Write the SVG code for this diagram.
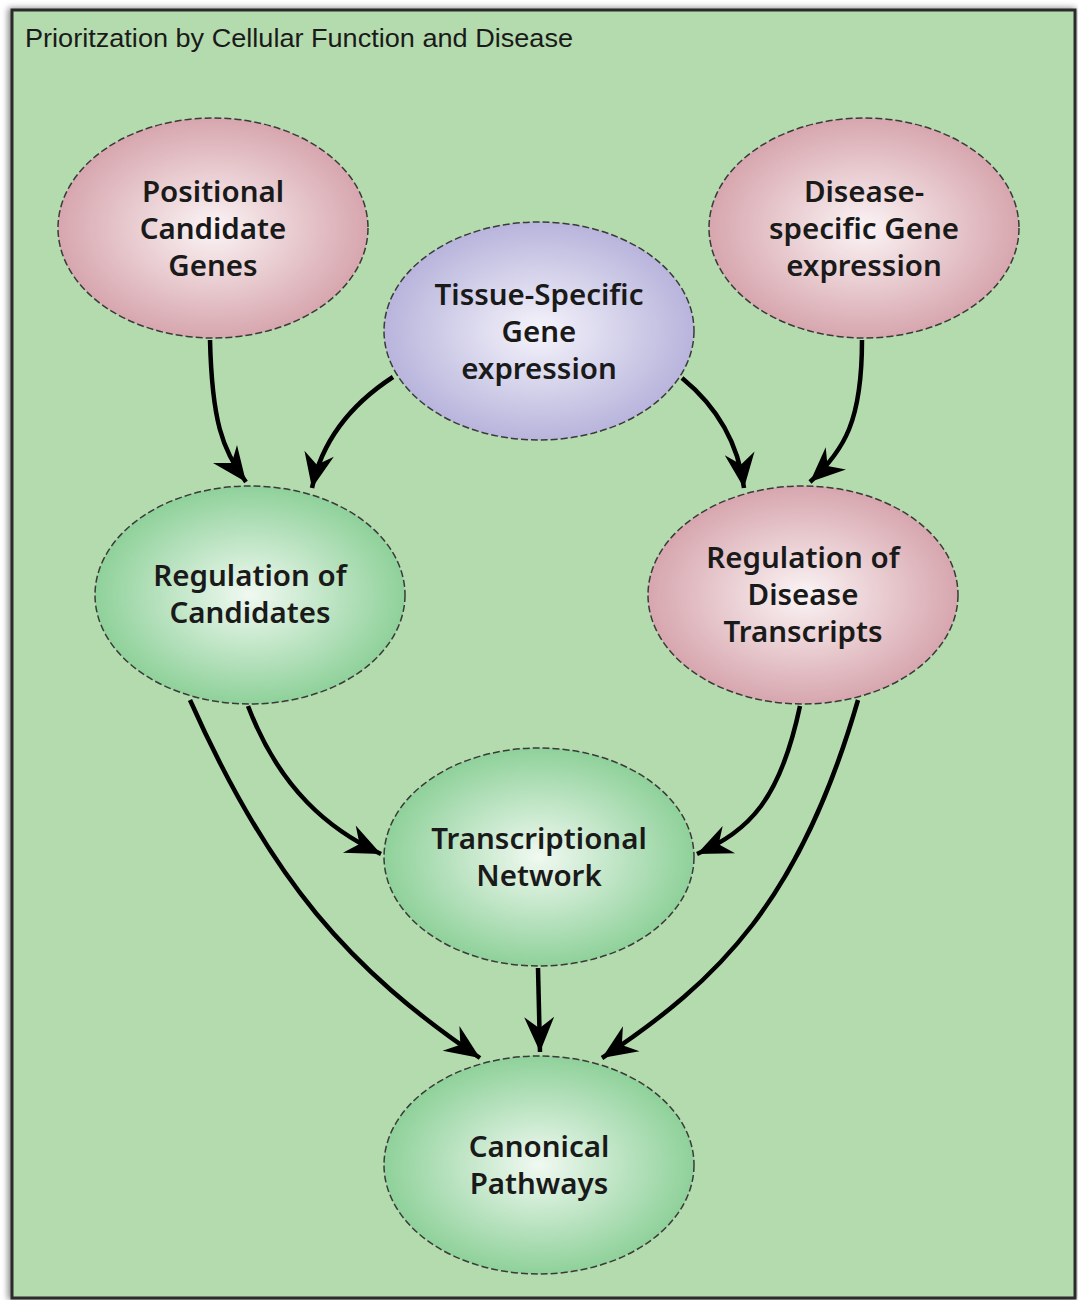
<svg xmlns="http://www.w3.org/2000/svg" width="1078" height="1300" viewBox="0 0 1078 1300">
<style>
.node ellipse{stroke:#3a3a3a;stroke-width:1.5;stroke-dasharray:7 3}
.node text{font-family:"Noto Sans","DejaVu Sans",sans-serif;font-weight:600;font-size:29.5px;fill:#1a1a1a;text-anchor:middle}
.conn path{fill:none;stroke:#000;stroke-width:4.5;marker-end:url(#ah)}
.title{font-family:"Liberation Sans",Arial,sans-serif;font-size:25px;fill:#1a1a1a}
</style>
<defs>
<radialGradient id="gPink" cx="50%" cy="50%" r="50%">
<stop offset="0" stop-color="#fbf4f5"/><stop offset="1" stop-color="#d7a6ae"/>
</radialGradient>
<radialGradient id="gPurple" cx="50%" cy="50%" r="50%">
<stop offset="0" stop-color="#f5f4fb"/><stop offset="1" stop-color="#b8b4dc"/>
</radialGradient>
<radialGradient id="gGreen" cx="50%" cy="50%" r="50%">
<stop offset="0" stop-color="#f0f9f1"/><stop offset="1" stop-color="#8fd19a"/>
</radialGradient>
<marker id="ah" markerUnits="userSpaceOnUse" markerWidth="40" markerHeight="40" viewBox="-30 -15 32 30" refX="0" refY="0" orient="auto">
<path d="M0,0 L-28,-12 L-19,0 L-28,12 Z" fill="#000"/>
</marker>
<filter id="sh" x="-5%" y="-5%" width="110%" height="110%">
<feGaussianBlur stdDeviation="3"/>
</filter>
</defs>
<rect x="0" y="0" width="1078" height="1300" fill="#ffffff"/>
<rect x="8" y="8" width="1068" height="1292" fill="#888" filter="url(#sh)"/>
<rect x="12" y="10" width="1063" height="1288" fill="#b4dbad" stroke="#2b2b2b" stroke-width="3"/>
<text class="title" x="25" y="47" textLength="548" lengthAdjust="spacingAndGlyphs">Prioritzation by Cellular Function and Disease</text>
<g class="conn">
<path d="M210,340 C212,420 222,450 246,482"/>
<path d="M393,377 C350,405 322,440 312,488"/>
<path d="M682,378 C715,405 738,440 744,488"/>
<path d="M862,340 C862,420 845,450 810,482"/>
<path d="M248,706 C280,790 330,830 381,854"/>
<path d="M190,700 C270,880 350,970 480,1058"/>
<path d="M800,706 C780,800 750,830 697,854"/>
<path d="M858,700 C800,900 720,980 602,1058"/>
<path d="M538,968 L540,1052"/>
</g>
<g id="positional" class="node">
<ellipse cx="213" cy="228" rx="155" ry="110" fill="url(#gPink)"/>
<text x="213" y="202">Positional</text>
<text x="213" y="239">Candidate</text>
<text x="213" y="276">Genes</text>
</g>
<g id="disease" class="node">
<ellipse cx="864" cy="228" rx="155" ry="110" fill="url(#gPink)"/>
<text x="864" y="202">Disease-</text>
<text x="864" y="239">specific Gene</text>
<text x="864" y="276">expression</text>
</g>
<g id="tissue" class="node">
<ellipse cx="539" cy="331" rx="155" ry="109" fill="url(#gPurple)"/>
<text x="539" y="305">Tissue-Specific</text>
<text x="539" y="342">Gene</text>
<text x="539" y="379">expression</text>
</g>
<g id="regcand" class="node">
<ellipse cx="250" cy="595" rx="155" ry="109" fill="url(#gGreen)"/>
<text x="250" y="586">Regulation of</text>
<text x="250" y="623">Candidates</text>
</g>
<g id="regdis" class="node">
<ellipse cx="803" cy="595" rx="155" ry="109" fill="url(#gPink)"/>
<text x="803" y="568">Regulation of</text>
<text x="803" y="605">Disease</text>
<text x="803" y="642">Transcripts</text>
</g>
<g id="transcriptional" class="node">
<ellipse cx="539" cy="857" rx="155" ry="109" fill="url(#gGreen)"/>
<text x="539" y="849">Transcriptional</text>
<text x="539" y="886">Network</text>
</g>
<g id="canonical" class="node">
<ellipse cx="539" cy="1165" rx="155" ry="109" fill="url(#gGreen)"/>
<text x="539" y="1157">Canonical</text>
<text x="539" y="1194">Pathways</text>
</g>
</svg>
